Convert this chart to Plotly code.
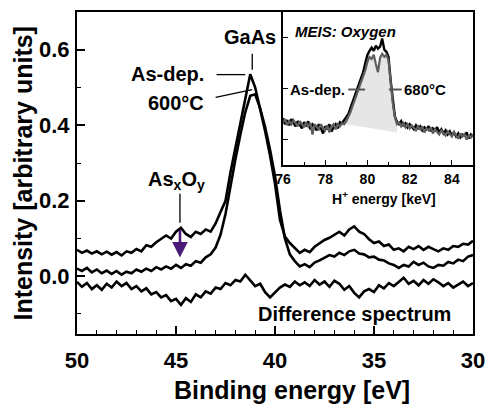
import plotly.graph_objects as go

# ---------------- data ----------------
# Main XPS spectra, binding energy grid 50 -> 30 eV, step 0.25 eV
binding_energy = [50.0 - 0.25 * i for i in range(81)]

as_dep = [0.070, 0.062, 0.068, 0.060, 0.066, 0.058, 0.065, 0.057, 0.064, 0.055,
          0.066, 0.062, 0.072, 0.066, 0.082, 0.078, 0.090, 0.098, 0.108, 0.100,
          0.118, 0.128, 0.112, 0.104, 0.118, 0.112, 0.124, 0.118, 0.140, 0.170,
          0.200, 0.275, 0.340, 0.410, 0.475, 0.535, 0.500, 0.445, 0.385, 0.320,
          0.245, 0.150, 0.105, 0.088, 0.076, 0.062, 0.070, 0.064, 0.078, 0.088,
          0.096, 0.102, 0.110, 0.118, 0.108, 0.124, 0.132, 0.118, 0.112, 0.098,
          0.088, 0.092, 0.080, 0.084, 0.070, 0.074, 0.066, 0.078, 0.072, 0.080,
          0.070, 0.078, 0.072, 0.066, 0.074, 0.070, 0.080, 0.078, 0.086, 0.084,
          0.094]

t600 = [0.020, 0.014, 0.022, 0.010, 0.018, 0.008, 0.015, 0.006, 0.014, 0.004,
        0.012, 0.008, 0.018, 0.012, 0.020, 0.014, 0.024, 0.018, 0.026, 0.020,
        0.030, 0.022, 0.032, 0.028, 0.040, 0.036, 0.050, 0.058, 0.076, 0.110,
        0.165, 0.240, 0.310, 0.375, 0.435, 0.478, 0.482, 0.445, 0.395, 0.335,
        0.265, 0.175, 0.100, 0.058, 0.040, 0.026, 0.032, 0.024, 0.036, 0.042,
        0.050, 0.056, 0.052, 0.062, 0.056, 0.066, 0.070, 0.060, 0.058, 0.050,
        0.052, 0.044, 0.042, 0.034, 0.030, 0.022, 0.030, 0.026, 0.038, 0.030,
        0.036, 0.026, 0.022, 0.030, 0.028, 0.038, 0.034, 0.044, 0.040, 0.052,
        0.056]

difference = [-0.015, -0.028, -0.018, -0.034, -0.024, -0.036, -0.020, -0.030, -0.014, -0.026,
              -0.018, -0.034, -0.026, -0.040, -0.032, -0.048, -0.042, -0.056, -0.050, -0.066,
              -0.060, -0.076, -0.058, -0.068, -0.048, -0.056, -0.040, -0.046, -0.030, -0.034,
              -0.018, -0.024, -0.010, -0.014, 0.004, -0.012, -0.026, -0.020, -0.042, -0.056,
              -0.044, -0.030, -0.022, -0.028, -0.014, -0.024, -0.016, -0.026, -0.010, -0.022,
              -0.014, -0.028, -0.012, -0.020, -0.036, -0.026, -0.044, -0.056, -0.040, -0.034,
              -0.042, -0.024, -0.032, -0.018, -0.026, -0.014, -0.004, -0.020, -0.012, -0.024,
              -0.010, -0.020, -0.008, -0.016, -0.026, -0.018, -0.030, -0.022, -0.014, -0.026,
              -0.018]

# Inset MEIS oxygen spectra, H+ energy 76 -> 85 keV, step 0.1 keV
h_energy = [round(76.0 + 0.1 * i, 1) for i in range(91)]

meis_as_dep = [0.42, 0.30, 0.38, 0.28, 0.40, 0.32, 0.26, 0.36, 0.30, 0.22,
               0.34, 0.28, 0.36, 0.20, 0.30, 0.26, 0.18, 0.30, 0.22, 0.12,
               0.26, 0.20, 0.30, 0.16, 0.24, 0.30, 0.22, 0.34, 0.32, 0.38,
               0.42, 0.50, 0.62, 0.74, 0.86, 0.96, 1.06, 1.18, 1.32, 1.50,
               1.66, 1.74, 1.80, 1.74, 1.84, 1.78, 1.82, 1.98, 1.76, 1.72,
               1.62, 1.16, 0.76, 0.46, 0.34, 0.30, 0.36, 0.28, 0.32, 0.24,
               0.30, 0.26, 0.20, 0.28, 0.22, 0.26, 0.18, 0.24, 0.20, 0.26,
               0.16, 0.22, 0.18, 0.24, 0.14, 0.20, 0.12, 0.18, 0.10, 0.16,
               0.08, 0.14, 0.06, 0.12, 0.04, 0.10, 0.08, 0.14, 0.02, 0.10,
               0.06]

meis_680 = [0.34, 0.40, 0.28, 0.36, 0.30, 0.38, 0.32, 0.26, 0.36, 0.30,
            0.24, 0.34, 0.26, 0.32, 0.10, 0.30, 0.24, 0.20, 0.30, 0.22,
            0.18, 0.28, 0.14, 0.26, 0.30, 0.20, 0.30, 0.26, 0.32, 0.30,
            0.36, 0.44, 0.54, 0.66, 0.78, 0.90, 1.00, 1.10, 1.22, 1.36,
            1.52, 1.62, 1.58, 1.66, 1.48, 1.32, 1.60, 1.68, 1.62, 1.66,
            1.55, 1.10, 0.72, 0.44, 0.30, 0.34, 0.26, 0.32, 0.24, 0.30,
            0.22, 0.28, 0.24, 0.18, 0.26, 0.20, 0.24, 0.14, 0.22, 0.18,
            0.24, 0.12, 0.20, 0.16, 0.10, 0.18, 0.14, 0.08, 0.16, 0.12,
            0.06, 0.14, 0.08, 0.02, 0.12, 0.06, 0.10, 0.00, 0.08, 0.04,
            0.10]

# linear background under the oxygen peak (start, end)
bg_energy = [79.0, 81.4]
bg_level = [0.30, 0.14]

main_xticks = [50, 45, 40, 35, 30]
main_yticks = [0.0, 0.2, 0.4, 0.6]
inset_xticks = [76, 78, 80, 82, 84]

# ---------------- layout geometry ----------------
W, H = 495, 409
L, R, T, B = 77, 477, 10, 334
FONT = "Liberation Sans, Arial, Helvetica, sans-serif"


def px(x):
    return (x - L) / (R - L)


def py(y):
    return (B - y) / (B - T)


fig = go.Figure()

for ys in (as_dep, t600, difference):
    fig.add_trace(go.Scatter(x=binding_energy, y=ys, mode="lines",
                             line=dict(color="black", width=2.6),
                             xaxis="x", yaxis="y", showlegend=False,
                             hoverinfo="skip"))

# shaded oxygen peak area in inset
sel = [(e, v) for e, v in zip(h_energy, meis_680) if bg_energy[0] <= e <= bg_energy[1]]
fill_x = [e for e, _ in sel] + [bg_energy[1], bg_energy[0]]
fill_y = [v for _, v in sel] + [bg_level[1], bg_level[0]]
fig.add_trace(go.Scatter(x=fill_x, y=fill_y, mode="lines", fill="toself",
                         fillcolor="#e6e6e6", line=dict(width=0),
                         xaxis="x2", yaxis="y2", showlegend=False, hoverinfo="skip"))

fig.add_trace(go.Scatter(x=h_energy, y=meis_as_dep, mode="lines",
                         line=dict(color="black", width=2.4),
                         xaxis="x2", yaxis="y2", showlegend=False, hoverinfo="skip"))
fig.add_trace(go.Scatter(x=h_energy, y=meis_680, mode="lines",
                         line=dict(color="#5e5e5e", width=2.2),
                         xaxis="x2", yaxis="y2", showlegend=False, hoverinfo="skip"))

tickfont_main = dict(family=FONT, size=22, color="black", weight="bold")
tickfont_inset = dict(family=FONT, size=14, color="black", weight="bold")

fig.update_layout(
    width=W, height=H, autosize=False,
    margin=dict(l=L, r=W - R, t=T, b=H - B, pad=0),
    paper_bgcolor="white", plot_bgcolor="white",
    xaxis=dict(domain=[0, 1], range=[50, 30], tickvals=main_xticks,
               ticks="inside", ticklen=8, tickwidth=1.5, tickcolor="black",
               minor=dict(dtick=1, ticks="inside", ticklen=4, tickwidth=1.2, tickcolor="black"),
               showline=True, linecolor="black", linewidth=2, mirror=True,
               showgrid=False, zeroline=False, tickfont=tickfont_main,
               ticklabelstandoff=6),
    yaxis=dict(domain=[0, 1], range=[-0.153, 0.70], tickvals=main_yticks,
               tickformat=".1f",
               ticks="inside", ticklen=8, tickwidth=1.5, tickcolor="black",
               minor=dict(dtick=0.1, ticks="inside", ticklen=4, tickwidth=1.2, tickcolor="black"),
               showline=True, linecolor="black", linewidth=2, mirror=True,
               showgrid=False, zeroline=False, tickfont=tickfont_main,
               ticklabelstandoff=1),
    xaxis2=dict(domain=[px(285), 1.0], anchor="y2", range=[76, 85],
                tickvals=inset_xticks, ticks="inside", ticklen=5, tickwidth=1.2,
                tickcolor="black",
                minor=dict(dtick=1, ticks="inside", ticklen=3, tickwidth=1, tickcolor="black"),
                showline=True, linecolor="black", linewidth=2.2, mirror=True,
                showgrid=False, zeroline=False, tickfont=tickfont_inset,
                ticklabelstandoff=0),
    yaxis2=dict(domain=[py(164), 1.0], anchor="x2", range=[-0.5, 2.5],
                tickvals=[0, 1, 2], ticks="inside", ticklen=5, tickwidth=1.2,
                tickcolor="black", showticklabels=False,
                showline=True, linecolor="black", linewidth=2.2, mirror=True,
                showgrid=False, zeroline=False),
)


def ann(text, x, y, size=20, xanchor="center", yanchor="middle", italic=False, angle=0):
    t = "<b>" + text + "</b>"
    if italic:
        t = "<i>" + t + "</i>"
    fig.add_annotation(text=t, x=px(x), y=py(y), xref="paper", yref="paper",
                       xanchor=xanchor, yanchor=yanchor, showarrow=False,
                       textangle=angle,
                       font=dict(family=FONT, size=size, color="black"))


def seg(x0, y0, x1, y1, color="black", width=1.3):
    fig.add_shape(type="line", xref="paper", yref="paper",
                  x0=px(x0), y0=py(y0), x1=px(x1), y1=py(y1),
                  line=dict(color=color, width=width))


# axis titles
ann("Binding energy [eV]", 294, 390, size=25)
ann("Intensity [arbitrary units]", 22, 172, size=25, angle=-90)

# main annotations
ann("GaAs", 252, 35, size=20)
seg(254, 52, 254, 68)
ann("As-dep.", 207, 72, size=20, xanchor="right")
seg(218, 73, 247, 73)
ann("600°C", 207, 102, size=20, xanchor="right")
seg(217, 96, 254, 88)
ann("As<sub>x</sub>O<sub>y</sub>", 177, 180, size=20)
seg(181, 193, 181, 222)
fig.add_annotation(x=px(181), y=py(257), xref="paper", yref="paper",
                   ax=0, ay=-29, axref="pixel", ayref="pixel", text="",
                   showarrow=True, arrowhead=2, arrowsize=1.2, arrowwidth=2.6,
                   arrowcolor="#4a1a78")
ann("Difference spectrum", 357, 314, size=20)

# inset annotations
ann("MEIS: Oxygen", 295, 30, size=15, xanchor="left", italic=True)
ann("As-dep.", 350, 88, size=15, xanchor="right")
seg(351, 88, 368, 88, color="#555555", width=2)
ann("680°C", 405, 88, size=15, xanchor="left")
seg(392, 88, 405, 88, color="#555555", width=2)
ann("H<sup>+</sup> energy [keV]", 387, 197, size=14)

fig.write_html("out.html")
